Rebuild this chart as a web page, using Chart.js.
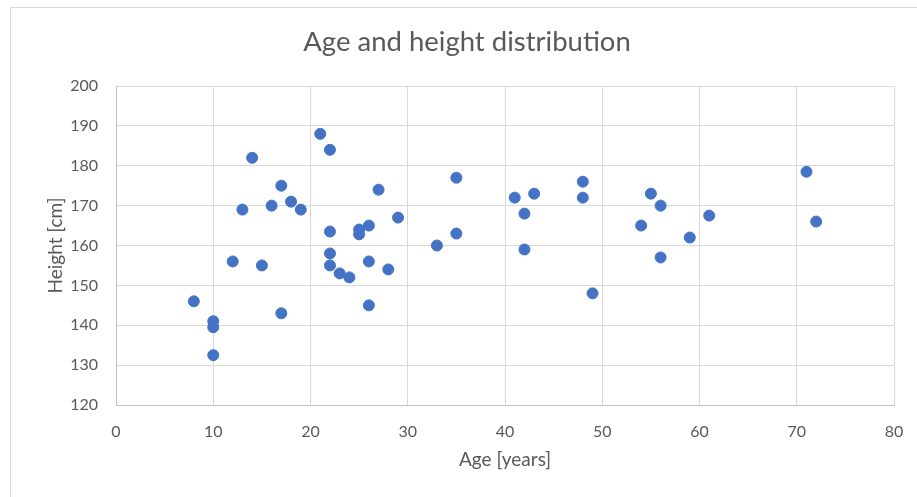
<!DOCTYPE html>
<html>
<head>
<meta charset="utf-8">
<script src="https://cdn.jsdelivr.net/npm/chart.js@4.4.1/dist/chart.umd.min.js"></script>
<style>
  html, body { margin: 0; padding: 0; background: #fff; overflow: hidden; }
  #wrap { position: relative; width: 917px; height: 497px; }
  #frame { position: absolute; left: 10px; top: 7px; width: 1000px; height: 1000px; border: 1px solid #d9d9d9; }
  #chart { position: absolute; left: 0; top: 0; }
</style>
</head>
<body>
<div id="wrap">
  <div id="frame"></div>
  <canvas id="chart" width="917" height="497"></canvas>
</div>
<script>
// Ages (years) and heights (cm)
const ages = [8, 10, 10, 10, 12, 13, 14, 15, 16, 17, 17, 18, 19, 21, 22, 22, 22, 22, 23, 24,
              25, 25, 26, 26, 26, 27, 28, 29, 33, 35, 35, 41, 42, 42, 43, 48, 48, 49, 54, 55,
              56, 56, 59, 61, 71, 72];
const heights = [146, 141, 139.5, 132.5, 156, 169, 182, 155, 170, 175, 143, 171, 169, 188, 184, 163.5, 158, 155, 153, 152,
                 164, 162.8, 165, 156, 145, 174, 154, 167, 160, 177, 163, 172, 168, 159, 173, 176, 172, 148, 165, 173,
                 170, 157, 162, 167.5, 178.5, 166];
const xTicks = [0, 10, 20, 30, 40, 50, 60, 70, 80];
const yTicks = [120, 130, 140, 150, 160, 170, 180, 190, 200];

const points = ages.map((a, i) => ({ x: a, y: heights[i] }));

const fontFamily = 'Lato, "Open Sans", sans-serif';
const gray = '#595959';

const ctx = document.getElementById('chart').getContext('2d');
const chart = new Chart(ctx, {
    type: 'scatter',
    data: {
        datasets: [{
            data: points,
            backgroundColor: '#4472C4',
            borderColor: '#4472C4',
            borderWidth: 1,
            pointRadius: 5.5,
            pointHoverRadius: 5.5
        }]
    },
    options: {
        responsive: false,
        animation: false,
        layout: {
            padding: { left: 40, right: 23, top: 0, bottom: 22 }
        },
        plugins: {
            legend: { display: false },
            tooltip: { enabled: false },
            title: {
                display: true,
                text: 'Age and height distribution',
                color: gray,
                font: { family: fontFamily, size: 27.5, weight: 'normal' },
                padding: { top: 26, bottom: 27 }
            }
        },
        scales: {
            x: {
                type: 'linear',
                min: xTicks[0],
                max: xTicks[xTicks.length - 1],
                afterBuildTicks: s => { s.ticks = xTicks.map(v => ({ value: v })); },
                afterFit: s => { s.height = 70; s.paddingLeft = 0; s.paddingRight = 0; },
                grid: { color: '#d9d9d9', drawTicks: false },
                border: { color: '#bfbfbf', width: 1 },
                ticks: { color: gray, padding: 17, font: { family: fontFamily, size: 16 } },
                title: {
                    display: true,
                    text: 'Age [years]',
                    color: gray,
                    font: { family: fontFamily, size: 19 }
                }
            },
            y: {
                type: 'linear',
                min: yTicks[0],
                max: yTicks[yTicks.length - 1],
                afterBuildTicks: s => { s.ticks = yTicks.map(v => ({ value: v })); },
                afterFit: s => { s.width = 76; s.paddingTop = 0; s.paddingBottom = 0; },
                grid: { color: '#d9d9d9', drawTicks: false },
                border: { color: '#bfbfbf', width: 1 },
                ticks: { color: gray, padding: 18, font: { family: fontFamily, size: 16 } },
                title: {
                    display: true,
                    text: 'Height [cm]',
                    color: gray,
                    font: { family: fontFamily, size: 19 }
                }
            }
        }
    }
});
</script>
</body>
</html>
